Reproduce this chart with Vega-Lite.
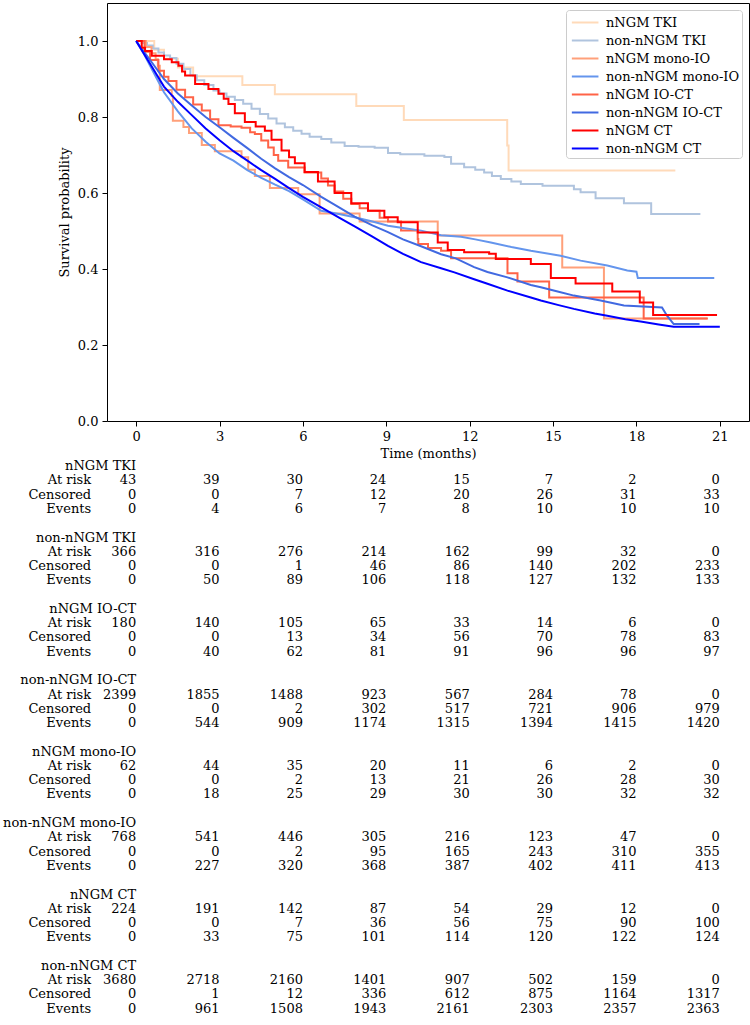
{
  "$schema": "https://vega.github.io/schema/vega-lite/v6.json",
  "background": "white",
  "padding": {"left": 3, "top": 2, "right": 0, "bottom": 0},
  "bounds": "flush",
  "spacing": 38,
  "resolve": {"scale": {"color": "independent"}, "legend": {"color": "independent"}},
  "config": {
    "font": "DejaVu Serif",
    "view": {"stroke": "black", "strokeWidth": 1},
    "axis": {"grid": false, "domain": false, "tickColor": "black", "tickSize": 5, "labelPadding": 4, "labelFontSize": 13, "labelColor": "black", "titleFontSize": 13, "titleFontWeight": "normal", "titleColor": "black", "labelFont": "DejaVu Serif", "titleFont": "DejaVu Serif"},
    "legend": {"labelFont": "DejaVu Serif"},
    "text": {"font": "DejaVu Serif"}
  },
  "datasets": {
    "curves": [
      {"g":"nNGM TKI","t":0,"s":1},{"g":"nNGM TKI","t":0.65,"s":0.977},{"g":"nNGM TKI","t":1.0,"s":0.953},{"g":"nNGM TKI","t":1.5,"s":0.93},{"g":"nNGM TKI","t":2.05,"s":0.907},{"g":"nNGM TKI","t":3.82,"s":0.884},{"g":"nNGM TKI","t":4.99,"s":0.86},{"g":"nNGM TKI","t":7.92,"s":0.829},{"g":"nNGM TKI","t":9.63,"s":0.792},{"g":"nNGM TKI","t":13.35,"s":0.725},{"g":"nNGM TKI","t":13.4,"s":0.659},{"g":"nNGM TKI","t":19.4,"s":0.659},
      {"g":"non-nNGM TKI","t":0,"s":1},{"g":"non-nNGM TKI","t":0.2,"s":0.995},{"g":"non-nNGM TKI","t":0.39,"s":0.988},{"g":"non-nNGM TKI","t":0.6,"s":0.98},{"g":"non-nNGM TKI","t":0.8,"s":0.97},{"g":"non-nNGM TKI","t":1.0,"s":0.962},{"g":"non-nNGM TKI","t":1.22,"s":0.955},{"g":"non-nNGM TKI","t":1.45,"s":0.94},{"g":"non-nNGM TKI","t":1.7,"s":0.926},{"g":"non-nNGM TKI","t":1.95,"s":0.91},{"g":"non-nNGM TKI","t":2.18,"s":0.897},{"g":"non-nNGM TKI","t":2.45,"s":0.884},{"g":"non-nNGM TKI","t":2.78,"s":0.87},{"g":"non-nNGM TKI","t":3.0,"s":0.862},{"g":"non-nNGM TKI","t":3.25,"s":0.853},{"g":"non-nNGM TKI","t":3.55,"s":0.845},{"g":"non-nNGM TKI","t":3.85,"s":0.835},{"g":"non-nNGM TKI","t":4.15,"s":0.822},{"g":"non-nNGM TKI","t":4.45,"s":0.808},{"g":"non-nNGM TKI","t":4.75,"s":0.796},{"g":"non-nNGM TKI","t":5.05,"s":0.783},{"g":"non-nNGM TKI","t":5.35,"s":0.773},{"g":"non-nNGM TKI","t":5.65,"s":0.764},{"g":"non-nNGM TKI","t":5.95,"s":0.756},{"g":"non-nNGM TKI","t":6.24,"s":0.748},{"g":"non-nNGM TKI","t":6.66,"s":0.742},{"g":"non-nNGM TKI","t":7.02,"s":0.733},{"g":"non-nNGM TKI","t":7.5,"s":0.724},{"g":"non-nNGM TKI","t":8.0,"s":0.722},{"g":"non-nNGM TKI","t":8.58,"s":0.719},{"g":"non-nNGM TKI","t":9.06,"s":0.705},{"g":"non-nNGM TKI","t":9.5,"s":0.702},{"g":"non-nNGM TKI","t":10.37,"s":0.698},{"g":"non-nNGM TKI","t":11.09,"s":0.695},{"g":"non-nNGM TKI","t":11.33,"s":0.677},{"g":"non-nNGM TKI","t":11.8,"s":0.668},{"g":"non-nNGM TKI","t":12.2,"s":0.661},{"g":"non-nNGM TKI","t":12.52,"s":0.654},{"g":"non-nNGM TKI","t":12.8,"s":0.645},{"g":"non-nNGM TKI","t":13.12,"s":0.637},{"g":"non-nNGM TKI","t":13.5,"s":0.63},{"g":"non-nNGM TKI","t":13.84,"s":0.624},{"g":"non-nNGM TKI","t":14.62,"s":0.619},{"g":"non-nNGM TKI","t":15.75,"s":0.61},{"g":"non-nNGM TKI","t":15.99,"s":0.602},{"g":"non-nNGM TKI","t":16.53,"s":0.586},{"g":"non-nNGM TKI","t":17.55,"s":0.573},{"g":"non-nNGM TKI","t":18.53,"s":0.545},{"g":"non-nNGM TKI","t":20.3,"s":0.545},
      {"g":"nNGM mono-IO","t":0,"s":1},{"g":"nNGM mono-IO","t":0.35,"s":0.984},{"g":"nNGM mono-IO","t":0.55,"s":0.968},{"g":"nNGM mono-IO","t":0.7,"s":0.952},{"g":"nNGM mono-IO","t":0.78,"s":0.935},{"g":"nNGM mono-IO","t":0.85,"s":0.871},{"g":"nNGM mono-IO","t":1.28,"s":0.855},{"g":"nNGM mono-IO","t":1.32,"s":0.79},{"g":"nNGM mono-IO","t":1.7,"s":0.774},{"g":"nNGM mono-IO","t":1.9,"s":0.758},{"g":"nNGM mono-IO","t":2.36,"s":0.726},{"g":"nNGM mono-IO","t":2.83,"s":0.71},{"g":"nNGM mono-IO","t":3.79,"s":0.694},{"g":"nNGM mono-IO","t":4.03,"s":0.661},{"g":"nNGM mono-IO","t":4.27,"s":0.645},{"g":"nNGM mono-IO","t":4.81,"s":0.613},{"g":"nNGM mono-IO","t":5.83,"s":0.597},{"g":"nNGM mono-IO","t":6.6,"s":0.546},{"g":"nNGM mono-IO","t":8.04,"s":0.525},{"g":"nNGM mono-IO","t":10.85,"s":0.488},{"g":"nNGM mono-IO","t":15.33,"s":0.404},{"g":"nNGM mono-IO","t":16.83,"s":0.27},{"g":"nNGM mono-IO","t":20.55,"s":0.27},
      {"g":"nNGM IO-CT","t":0,"s":1},{"g":"nNGM IO-CT","t":0.3,"s":0.972},{"g":"nNGM IO-CT","t":0.5,"s":0.95},{"g":"nNGM IO-CT","t":0.8,"s":0.922},{"g":"nNGM IO-CT","t":1.0,"s":0.906},{"g":"nNGM IO-CT","t":1.16,"s":0.895},{"g":"nNGM IO-CT","t":1.45,"s":0.872},{"g":"nNGM IO-CT","t":1.76,"s":0.852},{"g":"nNGM IO-CT","t":2.05,"s":0.833},{"g":"nNGM IO-CT","t":2.36,"s":0.817},{"g":"nNGM IO-CT","t":2.66,"s":0.794},{"g":"nNGM IO-CT","t":2.96,"s":0.778},{"g":"nNGM IO-CT","t":3.4,"s":0.775},{"g":"nNGM IO-CT","t":3.79,"s":0.772},{"g":"nNGM IO-CT","t":4.1,"s":0.76},{"g":"nNGM IO-CT","t":4.27,"s":0.755},{"g":"nNGM IO-CT","t":4.5,"s":0.738},{"g":"nNGM IO-CT","t":4.75,"s":0.72},{"g":"nNGM IO-CT","t":4.95,"s":0.7},{"g":"nNGM IO-CT","t":5.11,"s":0.685},{"g":"nNGM IO-CT","t":5.47,"s":0.667},{"g":"nNGM IO-CT","t":6.06,"s":0.654},{"g":"nNGM IO-CT","t":6.66,"s":0.638},{"g":"nNGM IO-CT","t":6.9,"s":0.62},{"g":"nNGM IO-CT","t":7.14,"s":0.604},{"g":"nNGM IO-CT","t":7.45,"s":0.585},{"g":"nNGM IO-CT","t":7.74,"s":0.571},{"g":"nNGM IO-CT","t":8.04,"s":0.56},{"g":"nNGM IO-CT","t":8.34,"s":0.553},{"g":"nNGM IO-CT","t":8.76,"s":0.535},{"g":"nNGM IO-CT","t":9.06,"s":0.525},{"g":"nNGM IO-CT","t":9.53,"s":0.501},{"g":"nNGM IO-CT","t":10.13,"s":0.479},{"g":"nNGM IO-CT","t":10.15,"s":0.466},{"g":"nNGM IO-CT","t":10.5,"s":0.455},{"g":"nNGM IO-CT","t":10.97,"s":0.448},{"g":"nNGM IO-CT","t":11.33,"s":0.428},{"g":"nNGM IO-CT","t":13.36,"s":0.389},{"g":"nNGM IO-CT","t":13.72,"s":0.367},{"g":"nNGM IO-CT","t":14.86,"s":0.325},{"g":"nNGM IO-CT","t":18.26,"s":0.27},{"g":"nNGM IO-CT","t":20.57,"s":0.27},
      {"g":"nNGM CT","t":0,"s":1},{"g":"nNGM CT","t":0.2,"s":0.982},{"g":"nNGM CT","t":0.32,"s":0.974},{"g":"nNGM CT","t":0.56,"s":0.961},{"g":"nNGM CT","t":1.0,"s":0.952},{"g":"nNGM CT","t":1.28,"s":0.944},{"g":"nNGM CT","t":1.52,"s":0.935},{"g":"nNGM CT","t":1.65,"s":0.92},{"g":"nNGM CT","t":1.76,"s":0.909},{"g":"nNGM CT","t":2.12,"s":0.887},{"g":"nNGM CT","t":2.6,"s":0.874},{"g":"nNGM CT","t":2.96,"s":0.861},{"g":"nNGM CT","t":3.15,"s":0.848},{"g":"nNGM CT","t":3.32,"s":0.834},{"g":"nNGM CT","t":3.55,"s":0.81},{"g":"nNGM CT","t":3.91,"s":0.787},{"g":"nNGM CT","t":4.3,"s":0.775},{"g":"nNGM CT","t":4.63,"s":0.764},{"g":"nNGM CT","t":4.87,"s":0.74},{"g":"nNGM CT","t":5.23,"s":0.712},{"g":"nNGM CT","t":5.5,"s":0.694},{"g":"nNGM CT","t":5.71,"s":0.678},{"g":"nNGM CT","t":6.06,"s":0.655},{"g":"nNGM CT","t":6.54,"s":0.63},{"g":"nNGM CT","t":7.14,"s":0.6},{"g":"nNGM CT","t":7.74,"s":0.573},{"g":"nNGM CT","t":8.34,"s":0.553},{"g":"nNGM CT","t":8.93,"s":0.536},{"g":"nNGM CT","t":9.41,"s":0.523},{"g":"nNGM CT","t":10.13,"s":0.496},{"g":"nNGM CT","t":10.85,"s":0.47},{"g":"nNGM CT","t":11.21,"s":0.45},{"g":"nNGM CT","t":11.8,"s":0.444},{"g":"nNGM CT","t":12.7,"s":0.44},{"g":"nNGM CT","t":12.94,"s":0.426},{"g":"nNGM CT","t":14.2,"s":0.413},{"g":"nNGM CT","t":14.92,"s":0.376},{"g":"nNGM CT","t":15.81,"s":0.362},{"g":"nNGM CT","t":17.13,"s":0.341},{"g":"nNGM CT","t":18.12,"s":0.312},{"g":"nNGM CT","t":18.6,"s":0.279},{"g":"nNGM CT","t":20.9,"s":0.279},
      {"g":"non-nNGM mono-IO","t":0,"s":1},{"g":"non-nNGM mono-IO","t":0.25,"s":0.97},{"g":"non-nNGM mono-IO","t":0.5,"s":0.935},{"g":"non-nNGM mono-IO","t":0.75,"s":0.9},{"g":"non-nNGM mono-IO","t":1.0,"s":0.865},{"g":"non-nNGM mono-IO","t":1.5,"s":0.815},{"g":"non-nNGM mono-IO","t":2.0,"s":0.77},{"g":"non-nNGM mono-IO","t":2.5,"s":0.735},{"g":"non-nNGM mono-IO","t":3.0,"s":0.704},{"g":"non-nNGM mono-IO","t":3.5,"s":0.685},{"g":"non-nNGM mono-IO","t":4.0,"s":0.66},{"g":"non-nNGM mono-IO","t":4.5,"s":0.64},{"g":"non-nNGM mono-IO","t":5.0,"s":0.622},{"g":"non-nNGM mono-IO","t":5.5,"s":0.605},{"g":"non-nNGM mono-IO","t":6.0,"s":0.583},{"g":"non-nNGM mono-IO","t":6.66,"s":0.553},{"g":"non-nNGM mono-IO","t":7.3,"s":0.545},{"g":"non-nNGM mono-IO","t":7.86,"s":0.536},{"g":"non-nNGM mono-IO","t":8.5,"s":0.525},{"g":"non-nNGM mono-IO","t":9.06,"s":0.514},{"g":"non-nNGM mono-IO","t":9.6,"s":0.508},{"g":"non-nNGM mono-IO","t":10.25,"s":0.501},{"g":"non-nNGM mono-IO","t":10.97,"s":0.489},{"g":"non-nNGM mono-IO","t":11.69,"s":0.485},{"g":"non-nNGM mono-IO","t":12.2,"s":0.478},{"g":"non-nNGM mono-IO","t":12.76,"s":0.47},{"g":"non-nNGM mono-IO","t":13.5,"s":0.458},{"g":"non-nNGM mono-IO","t":14.2,"s":0.448},{"g":"non-nNGM mono-IO","t":15.27,"s":0.435},{"g":"non-nNGM mono-IO","t":15.99,"s":0.422},{"g":"non-nNGM mono-IO","t":16.95,"s":0.409},{"g":"non-nNGM mono-IO","t":17.67,"s":0.396},{"g":"non-nNGM mono-IO","t":18.0,"s":0.393},{"g":"non-nNGM mono-IO","t":18.05,"s":0.376},{"g":"non-nNGM mono-IO","t":20.8,"s":0.376},
      {"g":"non-nNGM IO-CT","t":0,"s":1},{"g":"non-nNGM IO-CT","t":0.25,"s":0.975},{"g":"non-nNGM IO-CT","t":0.5,"s":0.95},{"g":"non-nNGM IO-CT","t":0.75,"s":0.925},{"g":"non-nNGM IO-CT","t":1.0,"s":0.9},{"g":"non-nNGM IO-CT","t":1.5,"s":0.862},{"g":"non-nNGM IO-CT","t":2.0,"s":0.83},{"g":"non-nNGM IO-CT","t":2.5,"s":0.8},{"g":"non-nNGM IO-CT","t":3.0,"s":0.773},{"g":"non-nNGM IO-CT","t":3.5,"s":0.745},{"g":"non-nNGM IO-CT","t":4.0,"s":0.718},{"g":"non-nNGM IO-CT","t":4.5,"s":0.69},{"g":"non-nNGM IO-CT","t":5.0,"s":0.665},{"g":"non-nNGM IO-CT","t":5.5,"s":0.642},{"g":"non-nNGM IO-CT","t":6.0,"s":0.621},{"g":"non-nNGM IO-CT","t":6.66,"s":0.59},{"g":"non-nNGM IO-CT","t":7.3,"s":0.562},{"g":"non-nNGM IO-CT","t":7.86,"s":0.538},{"g":"non-nNGM IO-CT","t":8.5,"s":0.515},{"g":"non-nNGM IO-CT","t":9.06,"s":0.497},{"g":"non-nNGM IO-CT","t":9.6,"s":0.478},{"g":"non-nNGM IO-CT","t":10.25,"s":0.46},{"g":"non-nNGM IO-CT","t":10.97,"s":0.439},{"g":"non-nNGM IO-CT","t":11.5,"s":0.428},{"g":"non-nNGM IO-CT","t":12.16,"s":0.405},{"g":"non-nNGM IO-CT","t":12.64,"s":0.392},{"g":"non-nNGM IO-CT","t":13.36,"s":0.378},{"g":"non-nNGM IO-CT","t":14.2,"s":0.358},{"g":"non-nNGM IO-CT","t":14.56,"s":0.352},{"g":"non-nNGM IO-CT","t":15.2,"s":0.34},{"g":"non-nNGM IO-CT","t":15.75,"s":0.33},{"g":"non-nNGM IO-CT","t":16.71,"s":0.317},{"g":"non-nNGM IO-CT","t":17.55,"s":0.304},{"g":"non-nNGM IO-CT","t":18.92,"s":0.299},{"g":"non-nNGM IO-CT","t":19.1,"s":0.277},{"g":"non-nNGM IO-CT","t":19.34,"s":0.255},{"g":"non-nNGM IO-CT","t":20.27,"s":0.255},
      {"g":"non-nNGM CT","t":0,"s":1},{"g":"non-nNGM CT","t":0.25,"s":0.97},{"g":"non-nNGM CT","t":0.5,"s":0.94},{"g":"non-nNGM CT","t":0.75,"s":0.91},{"g":"non-nNGM CT","t":1.0,"s":0.88},{"g":"non-nNGM CT","t":1.5,"s":0.84},{"g":"non-nNGM CT","t":2.0,"s":0.805},{"g":"non-nNGM CT","t":2.5,"s":0.77},{"g":"non-nNGM CT","t":3.0,"s":0.739},{"g":"non-nNGM CT","t":3.5,"s":0.71},{"g":"non-nNGM CT","t":4.0,"s":0.685},{"g":"non-nNGM CT","t":4.5,"s":0.66},{"g":"non-nNGM CT","t":5.0,"s":0.637},{"g":"non-nNGM CT","t":5.5,"s":0.613},{"g":"non-nNGM CT","t":6.0,"s":0.59},{"g":"non-nNGM CT","t":6.66,"s":0.562},{"g":"non-nNGM CT","t":7.3,"s":0.535},{"g":"non-nNGM CT","t":7.86,"s":0.512},{"g":"non-nNGM CT","t":8.5,"s":0.485},{"g":"non-nNGM CT","t":9.06,"s":0.461},{"g":"non-nNGM CT","t":9.6,"s":0.44},{"g":"non-nNGM CT","t":10.25,"s":0.418},{"g":"non-nNGM CT","t":10.97,"s":0.402},{"g":"non-nNGM CT","t":11.45,"s":0.391},{"g":"non-nNGM CT","t":12.16,"s":0.373},{"g":"non-nNGM CT","t":12.64,"s":0.361},{"g":"non-nNGM CT","t":13.36,"s":0.343},{"g":"non-nNGM CT","t":14.2,"s":0.325},{"g":"non-nNGM CT","t":14.56,"s":0.317},{"g":"non-nNGM CT","t":15.2,"s":0.305},{"g":"non-nNGM CT","t":15.75,"s":0.295},{"g":"non-nNGM CT","t":16.5,"s":0.283},{"g":"non-nNGM CT","t":16.95,"s":0.277},{"g":"non-nNGM CT","t":17.6,"s":0.268},{"g":"non-nNGM CT","t":18.15,"s":0.262},{"g":"non-nNGM CT","t":18.8,"s":0.254},{"g":"non-nNGM CT","t":19.34,"s":0.248},{"g":"non-nNGM CT","t":21.0,"s":0.248}
    ],
    "table": [
      {"g":"nNGM TKI","m":"At risk","t":0,"n":43},{"g":"nNGM TKI","m":"At risk","t":3,"n":39},{"g":"nNGM TKI","m":"At risk","t":6,"n":30},{"g":"nNGM TKI","m":"At risk","t":9,"n":24},{"g":"nNGM TKI","m":"At risk","t":12,"n":15},{"g":"nNGM TKI","m":"At risk","t":15,"n":7},{"g":"nNGM TKI","m":"At risk","t":18,"n":2},{"g":"nNGM TKI","m":"At risk","t":21,"n":0},
      {"g":"nNGM TKI","m":"Censored","t":0,"n":0},{"g":"nNGM TKI","m":"Censored","t":3,"n":0},{"g":"nNGM TKI","m":"Censored","t":6,"n":7},{"g":"nNGM TKI","m":"Censored","t":9,"n":12},{"g":"nNGM TKI","m":"Censored","t":12,"n":20},{"g":"nNGM TKI","m":"Censored","t":15,"n":26},{"g":"nNGM TKI","m":"Censored","t":18,"n":31},{"g":"nNGM TKI","m":"Censored","t":21,"n":33},
      {"g":"nNGM TKI","m":"Events","t":0,"n":0},{"g":"nNGM TKI","m":"Events","t":3,"n":4},{"g":"nNGM TKI","m":"Events","t":6,"n":6},{"g":"nNGM TKI","m":"Events","t":9,"n":7},{"g":"nNGM TKI","m":"Events","t":12,"n":8},{"g":"nNGM TKI","m":"Events","t":15,"n":10},{"g":"nNGM TKI","m":"Events","t":18,"n":10},{"g":"nNGM TKI","m":"Events","t":21,"n":10},
      {"g":"non-nNGM TKI","m":"At risk","t":0,"n":366},{"g":"non-nNGM TKI","m":"At risk","t":3,"n":316},{"g":"non-nNGM TKI","m":"At risk","t":6,"n":276},{"g":"non-nNGM TKI","m":"At risk","t":9,"n":214},{"g":"non-nNGM TKI","m":"At risk","t":12,"n":162},{"g":"non-nNGM TKI","m":"At risk","t":15,"n":99},{"g":"non-nNGM TKI","m":"At risk","t":18,"n":32},{"g":"non-nNGM TKI","m":"At risk","t":21,"n":0},
      {"g":"non-nNGM TKI","m":"Censored","t":0,"n":0},{"g":"non-nNGM TKI","m":"Censored","t":3,"n":0},{"g":"non-nNGM TKI","m":"Censored","t":6,"n":1},{"g":"non-nNGM TKI","m":"Censored","t":9,"n":46},{"g":"non-nNGM TKI","m":"Censored","t":12,"n":86},{"g":"non-nNGM TKI","m":"Censored","t":15,"n":140},{"g":"non-nNGM TKI","m":"Censored","t":18,"n":202},{"g":"non-nNGM TKI","m":"Censored","t":21,"n":233},
      {"g":"non-nNGM TKI","m":"Events","t":0,"n":0},{"g":"non-nNGM TKI","m":"Events","t":3,"n":50},{"g":"non-nNGM TKI","m":"Events","t":6,"n":89},{"g":"non-nNGM TKI","m":"Events","t":9,"n":106},{"g":"non-nNGM TKI","m":"Events","t":12,"n":118},{"g":"non-nNGM TKI","m":"Events","t":15,"n":127},{"g":"non-nNGM TKI","m":"Events","t":18,"n":132},{"g":"non-nNGM TKI","m":"Events","t":21,"n":133},
      {"g":"nNGM IO-CT","m":"At risk","t":0,"n":180},{"g":"nNGM IO-CT","m":"At risk","t":3,"n":140},{"g":"nNGM IO-CT","m":"At risk","t":6,"n":105},{"g":"nNGM IO-CT","m":"At risk","t":9,"n":65},{"g":"nNGM IO-CT","m":"At risk","t":12,"n":33},{"g":"nNGM IO-CT","m":"At risk","t":15,"n":14},{"g":"nNGM IO-CT","m":"At risk","t":18,"n":6},{"g":"nNGM IO-CT","m":"At risk","t":21,"n":0},
      {"g":"nNGM IO-CT","m":"Censored","t":0,"n":0},{"g":"nNGM IO-CT","m":"Censored","t":3,"n":0},{"g":"nNGM IO-CT","m":"Censored","t":6,"n":13},{"g":"nNGM IO-CT","m":"Censored","t":9,"n":34},{"g":"nNGM IO-CT","m":"Censored","t":12,"n":56},{"g":"nNGM IO-CT","m":"Censored","t":15,"n":70},{"g":"nNGM IO-CT","m":"Censored","t":18,"n":78},{"g":"nNGM IO-CT","m":"Censored","t":21,"n":83},
      {"g":"nNGM IO-CT","m":"Events","t":0,"n":0},{"g":"nNGM IO-CT","m":"Events","t":3,"n":40},{"g":"nNGM IO-CT","m":"Events","t":6,"n":62},{"g":"nNGM IO-CT","m":"Events","t":9,"n":81},{"g":"nNGM IO-CT","m":"Events","t":12,"n":91},{"g":"nNGM IO-CT","m":"Events","t":15,"n":96},{"g":"nNGM IO-CT","m":"Events","t":18,"n":96},{"g":"nNGM IO-CT","m":"Events","t":21,"n":97},
      {"g":"non-nNGM IO-CT","m":"At risk","t":0,"n":2399},{"g":"non-nNGM IO-CT","m":"At risk","t":3,"n":1855},{"g":"non-nNGM IO-CT","m":"At risk","t":6,"n":1488},{"g":"non-nNGM IO-CT","m":"At risk","t":9,"n":923},{"g":"non-nNGM IO-CT","m":"At risk","t":12,"n":567},{"g":"non-nNGM IO-CT","m":"At risk","t":15,"n":284},{"g":"non-nNGM IO-CT","m":"At risk","t":18,"n":78},{"g":"non-nNGM IO-CT","m":"At risk","t":21,"n":0},
      {"g":"non-nNGM IO-CT","m":"Censored","t":0,"n":0},{"g":"non-nNGM IO-CT","m":"Censored","t":3,"n":0},{"g":"non-nNGM IO-CT","m":"Censored","t":6,"n":2},{"g":"non-nNGM IO-CT","m":"Censored","t":9,"n":302},{"g":"non-nNGM IO-CT","m":"Censored","t":12,"n":517},{"g":"non-nNGM IO-CT","m":"Censored","t":15,"n":721},{"g":"non-nNGM IO-CT","m":"Censored","t":18,"n":906},{"g":"non-nNGM IO-CT","m":"Censored","t":21,"n":979},
      {"g":"non-nNGM IO-CT","m":"Events","t":0,"n":0},{"g":"non-nNGM IO-CT","m":"Events","t":3,"n":544},{"g":"non-nNGM IO-CT","m":"Events","t":6,"n":909},{"g":"non-nNGM IO-CT","m":"Events","t":9,"n":1174},{"g":"non-nNGM IO-CT","m":"Events","t":12,"n":1315},{"g":"non-nNGM IO-CT","m":"Events","t":15,"n":1394},{"g":"non-nNGM IO-CT","m":"Events","t":18,"n":1415},{"g":"non-nNGM IO-CT","m":"Events","t":21,"n":1420},
      {"g":"nNGM mono-IO","m":"At risk","t":0,"n":62},{"g":"nNGM mono-IO","m":"At risk","t":3,"n":44},{"g":"nNGM mono-IO","m":"At risk","t":6,"n":35},{"g":"nNGM mono-IO","m":"At risk","t":9,"n":20},{"g":"nNGM mono-IO","m":"At risk","t":12,"n":11},{"g":"nNGM mono-IO","m":"At risk","t":15,"n":6},{"g":"nNGM mono-IO","m":"At risk","t":18,"n":2},{"g":"nNGM mono-IO","m":"At risk","t":21,"n":0},
      {"g":"nNGM mono-IO","m":"Censored","t":0,"n":0},{"g":"nNGM mono-IO","m":"Censored","t":3,"n":0},{"g":"nNGM mono-IO","m":"Censored","t":6,"n":2},{"g":"nNGM mono-IO","m":"Censored","t":9,"n":13},{"g":"nNGM mono-IO","m":"Censored","t":12,"n":21},{"g":"nNGM mono-IO","m":"Censored","t":15,"n":26},{"g":"nNGM mono-IO","m":"Censored","t":18,"n":28},{"g":"nNGM mono-IO","m":"Censored","t":21,"n":30},
      {"g":"nNGM mono-IO","m":"Events","t":0,"n":0},{"g":"nNGM mono-IO","m":"Events","t":3,"n":18},{"g":"nNGM mono-IO","m":"Events","t":6,"n":25},{"g":"nNGM mono-IO","m":"Events","t":9,"n":29},{"g":"nNGM mono-IO","m":"Events","t":12,"n":30},{"g":"nNGM mono-IO","m":"Events","t":15,"n":30},{"g":"nNGM mono-IO","m":"Events","t":18,"n":32},{"g":"nNGM mono-IO","m":"Events","t":21,"n":32},
      {"g":"non-nNGM mono-IO","m":"At risk","t":0,"n":768},{"g":"non-nNGM mono-IO","m":"At risk","t":3,"n":541},{"g":"non-nNGM mono-IO","m":"At risk","t":6,"n":446},{"g":"non-nNGM mono-IO","m":"At risk","t":9,"n":305},{"g":"non-nNGM mono-IO","m":"At risk","t":12,"n":216},{"g":"non-nNGM mono-IO","m":"At risk","t":15,"n":123},{"g":"non-nNGM mono-IO","m":"At risk","t":18,"n":47},{"g":"non-nNGM mono-IO","m":"At risk","t":21,"n":0},
      {"g":"non-nNGM mono-IO","m":"Censored","t":0,"n":0},{"g":"non-nNGM mono-IO","m":"Censored","t":3,"n":0},{"g":"non-nNGM mono-IO","m":"Censored","t":6,"n":2},{"g":"non-nNGM mono-IO","m":"Censored","t":9,"n":95},{"g":"non-nNGM mono-IO","m":"Censored","t":12,"n":165},{"g":"non-nNGM mono-IO","m":"Censored","t":15,"n":243},{"g":"non-nNGM mono-IO","m":"Censored","t":18,"n":310},{"g":"non-nNGM mono-IO","m":"Censored","t":21,"n":355},
      {"g":"non-nNGM mono-IO","m":"Events","t":0,"n":0},{"g":"non-nNGM mono-IO","m":"Events","t":3,"n":227},{"g":"non-nNGM mono-IO","m":"Events","t":6,"n":320},{"g":"non-nNGM mono-IO","m":"Events","t":9,"n":368},{"g":"non-nNGM mono-IO","m":"Events","t":12,"n":387},{"g":"non-nNGM mono-IO","m":"Events","t":15,"n":402},{"g":"non-nNGM mono-IO","m":"Events","t":18,"n":411},{"g":"non-nNGM mono-IO","m":"Events","t":21,"n":413},
      {"g":"nNGM CT","m":"At risk","t":0,"n":224},{"g":"nNGM CT","m":"At risk","t":3,"n":191},{"g":"nNGM CT","m":"At risk","t":6,"n":142},{"g":"nNGM CT","m":"At risk","t":9,"n":87},{"g":"nNGM CT","m":"At risk","t":12,"n":54},{"g":"nNGM CT","m":"At risk","t":15,"n":29},{"g":"nNGM CT","m":"At risk","t":18,"n":12},{"g":"nNGM CT","m":"At risk","t":21,"n":0},
      {"g":"nNGM CT","m":"Censored","t":0,"n":0},{"g":"nNGM CT","m":"Censored","t":3,"n":0},{"g":"nNGM CT","m":"Censored","t":6,"n":7},{"g":"nNGM CT","m":"Censored","t":9,"n":36},{"g":"nNGM CT","m":"Censored","t":12,"n":56},{"g":"nNGM CT","m":"Censored","t":15,"n":75},{"g":"nNGM CT","m":"Censored","t":18,"n":90},{"g":"nNGM CT","m":"Censored","t":21,"n":100},
      {"g":"nNGM CT","m":"Events","t":0,"n":0},{"g":"nNGM CT","m":"Events","t":3,"n":33},{"g":"nNGM CT","m":"Events","t":6,"n":75},{"g":"nNGM CT","m":"Events","t":9,"n":101},{"g":"nNGM CT","m":"Events","t":12,"n":114},{"g":"nNGM CT","m":"Events","t":15,"n":120},{"g":"nNGM CT","m":"Events","t":18,"n":122},{"g":"nNGM CT","m":"Events","t":21,"n":124},
      {"g":"non-nNGM CT","m":"At risk","t":0,"n":3680},{"g":"non-nNGM CT","m":"At risk","t":3,"n":2718},{"g":"non-nNGM CT","m":"At risk","t":6,"n":2160},{"g":"non-nNGM CT","m":"At risk","t":9,"n":1401},{"g":"non-nNGM CT","m":"At risk","t":12,"n":907},{"g":"non-nNGM CT","m":"At risk","t":15,"n":502},{"g":"non-nNGM CT","m":"At risk","t":18,"n":159},{"g":"non-nNGM CT","m":"At risk","t":21,"n":0},
      {"g":"non-nNGM CT","m":"Censored","t":0,"n":0},{"g":"non-nNGM CT","m":"Censored","t":3,"n":1},{"g":"non-nNGM CT","m":"Censored","t":6,"n":12},{"g":"non-nNGM CT","m":"Censored","t":9,"n":336},{"g":"non-nNGM CT","m":"Censored","t":12,"n":612},{"g":"non-nNGM CT","m":"Censored","t":15,"n":875},{"g":"non-nNGM CT","m":"Censored","t":18,"n":1164},{"g":"non-nNGM CT","m":"Censored","t":21,"n":1317},
      {"g":"non-nNGM CT","m":"Events","t":0,"n":0},{"g":"non-nNGM CT","m":"Events","t":3,"n":961},{"g":"non-nNGM CT","m":"Events","t":6,"n":1508},{"g":"non-nNGM CT","m":"Events","t":9,"n":1943},{"g":"non-nNGM CT","m":"Events","t":12,"n":2161},{"g":"non-nNGM CT","m":"Events","t":15,"n":2303},{"g":"non-nNGM CT","m":"Events","t":18,"n":2357},{"g":"non-nNGM CT","m":"Events","t":21,"n":2363}
    ]
  },
  "vconcat": [
    {
      "width": 642,
      "height": 418,
      "data": {"name": "curves"},
      "encoding": {
        "x": {"field": "t", "type": "quantitative", "scale": {"domain": [-1.05, 22.05], "nice": false, "zero": false}, "axis": {"values": [0, 3, 6, 9, 12, 15, 18, 21], "title": "Time (months)", "titlePadding": 4, "labelFlush": false}},
        "y": {"field": "s", "type": "quantitative", "scale": {"domain": [0, 1.1], "nice": false}, "axis": {"values": [0, 0.2, 0.4, 0.6, 0.8, 1.0], "format": ".1f", "title": "Survival probability", "titlePadding": 6}},
        "color": {
          "field": "g", "type": "nominal",
          "scale": {
            "domain": ["nNGM TKI", "non-nNGM TKI", "nNGM mono-IO", "non-nNGM mono-IO", "nNGM IO-CT", "non-nNGM IO-CT", "nNGM CT", "non-nNGM CT"],
            "range": ["#ffdab9", "#b0c4de", "#ffa07a", "#6495ed", "#ff6347", "#4169e1", "#ff0000", "#0000ff"]
          },
          "legend": {"title": null, "orient": "top-right", "offset": 7, "padding": 2, "rowPadding": 0, "symbolType": "M-0.7,0H2.1", "symbolSize": 361, "symbolStrokeWidth": 2, "labelFontSize": 13, "labelColor": "black", "labelOffset": 17, "labelLimit": 220, "strokeColor": "#cccccc", "fillColor": "rgba(255,255,255,0.8)", "cornerRadius": 3}
        }
      },
      "layer": [
        {"transform": [{"filter": {"field": "g", "oneOf": ["nNGM TKI", "non-nNGM TKI", "nNGM mono-IO", "nNGM IO-CT"]}}], "mark": {"type": "line", "interpolate": "step-after", "strokeWidth": 2}},
        {"transform": [{"filter": {"field": "g", "oneOf": ["non-nNGM mono-IO", "non-nNGM IO-CT"]}}], "mark": {"type": "line", "strokeWidth": 2}},
        {"transform": [{"filter": {"field": "g", "equal": "nNGM CT"}}], "mark": {"type": "line", "interpolate": "step-after", "strokeWidth": 2}},
        {"transform": [{"filter": {"field": "g", "equal": "non-nNGM CT"}}], "mark": {"type": "line", "strokeWidth": 2}}
      ]
    },
    {
      "data": {"name": "table"},
      "facet": {"row": {"field": "g", "type": "nominal", "sort": ["nNGM TKI", "non-nNGM TKI", "nNGM IO-CT", "non-nNGM IO-CT", "nNGM mono-IO", "non-nNGM mono-IO", "nNGM CT", "non-nNGM CT"], "header": null}},
      "spacing": 14.4,
      "spec": {
        "width": 642,
        "height": 56.8,
        "view": {"stroke": null},
        "encoding": {
          "y": {"field": "m", "type": "nominal", "scale": {"domain": ["header", "At risk", "Censored", "Events"], "paddingInner": 0, "paddingOuter": 0}, "axis": null}
        },
        "layer": [
          {
            "mark": {"type": "text", "align": "right", "baseline": "middle", "fontSize": 13, "color": "black"},
            "encoding": {
              "x": {"field": "t", "type": "quantitative", "scale": {"domain": [-1.05, 22.05], "nice": false, "zero": false}, "axis": null},
              "text": {"field": "n", "type": "nominal"}
            }
          },
          {
            "transform": [{"filter": "datum.t == 0 && datum.m == 'At risk'"}],
            "mark": {"type": "text", "align": "right", "baseline": "middle", "fontSize": 13, "color": "black"},
            "encoding": {
              "x": {"field": "t", "type": "quantitative"},
              "y": {"datum": "header", "type": "nominal"},
              "text": {"field": "g", "type": "nominal"}
            }
          },
          {
            "transform": [{"filter": "datum.t == 0"}],
            "mark": {"type": "text", "align": "right", "baseline": "middle", "fontSize": 13, "color": "black"},
            "encoding": {
              "x": {"datum": -1.62, "type": "quantitative"},
              "text": {"field": "m", "type": "nominal"}
            }
          }
        ]
      }
    }
  ]
}
